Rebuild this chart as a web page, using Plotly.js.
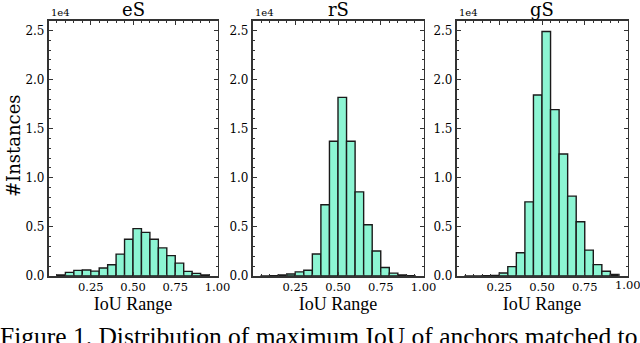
<!DOCTYPE html>
<html>
<head>
<meta charset="utf-8">
<script src="https://cdn.plot.ly/plotly-3.0.1.min.js"></script>
<style>
  html, body { margin: 0; padding: 0; background: #fff; }
  #chart { width: 640px; height: 343px; }
</style>
</head>
<body>
<div id="chart"></div>
<script>
// bin centres of the IoU histogram (bins of 0.05 from 0.05 to 0.95)
const binCenters = [0.075, 0.125, 0.175, 0.225, 0.275, 0.325, 0.375, 0.425, 0.475,
  0.525, 0.575, 0.625, 0.675, 0.725, 0.775, 0.825, 0.875, 0.925]
const binWidth = 0.05

// counts
const eSCounts = [100, 370, 570, 610, 500, 820, 1140, 2230, 3740, 4820, 4440, 3740, 2860, 2070, 1310, 470, 270, 100]
const rSCounts = [10, 30, 100, 200, 420, 590, 2240, 7250, 13720, 18190, 13720, 8570, 5220, 2540, 870, 290, 110, 20]
const gSCounts = [10, 10, 20, 50, 300, 950, 2370, 7550, 18430, 24900, 16940, 12430, 8130, 5520, 2640, 1160, 480, 150]

const panelTitles = ['eS', 'rS', 'gS']
const yTickVals = [0, 5000, 10000, 15000, 20000, 25000]
const yTickText = ['0.0', '0.5', '1.0', '1.5', '2.0', '2.5']
const xTickVals = [0.25, 0.5, 0.75, 1.0]
const xTickText = ['0.25', '0.50', '0.75', '1.00']

const BAR_FILL = '#8cf5d3'
const BAR_EDGE = '#1a1a1a'
const AXIS_COLOR = '#333'
const SERIF = 'DejaVu Serif, serif'
const TIMES = 'Liberation Serif, serif'

const W = 640, H = 343
const xDomainsPx = [[48.5, 217.5], [252.5, 423.5], [456.5, 627.5]]
const yTopPx = 20.7, yBottomPx = 276

const series = [eSCounts, rSCounts, gSCounts]
const data = series.map((counts, i) => ({
  type: 'bar',
  x: binCenters,
  y: counts,
  width: binWidth,
  xaxis: i === 0 ? 'x' : `x${i + 1}`,
  yaxis: i === 0 ? 'y' : `y${i + 1}`,
  marker: {color: BAR_FILL, line: {color: BAR_EDGE, width: 1.4}},
  hoverinfo: 'none',
  showlegend: false
}))

const layout = {
  width: W,
  height: H,
  margin: {l: 0, r: 0, t: 0, b: 0},
  paper_bgcolor: '#fff',
  plot_bgcolor: '#fff',
  bargap: 0,
  font: {family: SERIF, size: 11, color: '#000'},
  annotations: [],
  showlegend: false
}

const yDomain = [(H - yBottomPx) / H, (H - yTopPx) / H]
const lastPanel = xDomainsPx.length - 1

xDomainsPx.forEach((px, i) => {
  const suffix = i === 0 ? '' : String(i + 1)
  // the rightmost label sits on the page edge and plotly drops it, so it is drawn as an annotation
  const nTicks = i === lastPanel ? xTickVals.length - 1 : xTickVals.length
  layout[`xaxis${suffix}`] = {
    domain: [px[0] / W, px[1] / W],
    range: [0, 1.0],
    anchor: `y${suffix}`,
    tickvals: xTickVals.slice(0, nTicks),
    ticktext: xTickText.slice(0, nTicks),
    ticks: 'inside',
    ticklen: 4,
    tickcolor: AXIS_COLOR,
    showline: true,
    linecolor: AXIS_COLOR,
    linewidth: 1.6,
    mirror: 'ticks',
    showgrid: false,
    zeroline: false,
    fixedrange: true,
    tickfont: {family: SERIF, size: 11.5, color: '#000'},
    minor: {dtick: 0.05, tick0: 0, ticks: 'inside', ticklen: 2, tickcolor: AXIS_COLOR, showgrid: false},
    title: {text: 'IoU Range', font: {family: TIMES, size: 18, color: '#000'}, standoff: 4}
  }
  layout[`yaxis${suffix}`] = {
    domain: yDomain,
    range: [0, 26000],
    anchor: `x${suffix}`,
    tickvals: yTickVals,
    ticktext: yTickText,
    ticks: 'inside',
    ticklen: 4,
    tickcolor: AXIS_COLOR,
    showline: true,
    linecolor: AXIS_COLOR,
    linewidth: 1.6,
    mirror: 'ticks',
    showgrid: false,
    zeroline: false,
    fixedrange: true,
    tickfont: {family: SERIF, size: 12, color: '#000'},
    minor: {dtick: 1000, tick0: 0, ticks: 'inside', ticklen: 2, tickcolor: AXIS_COLOR, showgrid: false}
  }
  // panel title
  layout.annotations.push({
    text: panelTitles[i],
    xref: 'paper', yref: 'paper',
    x: (px[0] + px[1]) / 2 / W, y: (H - 9) / H,
    xanchor: 'center', yanchor: 'middle',
    showarrow: false,
    font: {family: SERIF, size: 18, color: '#000'}
  })
  // offset text
  layout.annotations.push({
    text: '1e4',
    xref: 'paper', yref: 'paper',
    x: px[0] / W, y: (H - yTopPx + 1) / H,
    xanchor: 'left', yanchor: 'bottom',
    showarrow: false,
    font: {family: SERIF, size: 10, color: '#000'}
  })
})

layout.annotations.push({
  text: xTickText[xTickText.length - 1],
  xref: `x${lastPanel + 1}`, yref: 'paper',
  x: xTickVals[xTickVals.length - 1], y: (H - 285) / H,
  xanchor: 'center', yanchor: 'middle',
  showarrow: false,
  font: {family: SERIF, size: 11.5, color: '#000'}
})

layout.annotations.push({
  text: '#Instances',
  xref: 'paper', yref: 'paper',
  x: 13 / W, y: (H - 146) / H,
  xanchor: 'center', yanchor: 'middle',
  textangle: -90,
  showarrow: false,
  font: {family: SERIF, size: 18, color: '#000'}
})

layout.annotations.push({
  text: 'Figure 1. Distribution of maximum IoU of anchors matched to',
  xref: 'paper', yref: 'paper',
  x: -2 / W, y: (H - 336) / H,
  xanchor: 'left', yanchor: 'middle',
  showarrow: false,
  font: {family: TIMES, size: 25.5, color: '#000'}
})

Plotly.newPlot('chart', data, layout, {staticPlot: true, displayModeBar: false})
</script>
</body>
</html>
